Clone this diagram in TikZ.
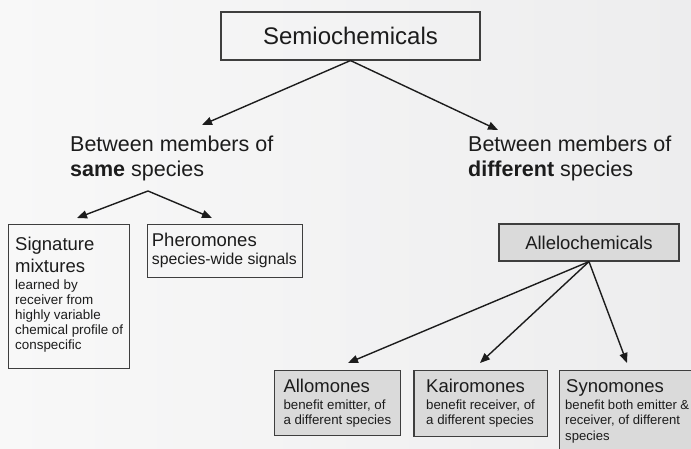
\documentclass[tikz,border=0pt]{standalone}
\usepackage{fontspec}
\setmainfont{Liberation Sans}
\usetikzlibrary{arrows.meta}
\definecolor{bgl}{RGB}{248,248,248}
\definecolor{bgr}{RGB}{237,237,238}
\definecolor{ink}{RGB}{28,28,28}
\definecolor{boxgray}{RGB}{218,218,218}
\newcommand{\tstack}[4]{\parbox[t]{#1}{\fontsize{#2}{#3}\selectfont\raggedright #4}}
\tikzset{
  plainbox/.style={draw=ink!85, line width=1.1pt, inner sep=0pt},
  graybox/.style={draw=ink!85, fill=boxgray, line width=1.2pt, inner sep=0pt},
  lbl/.style={anchor=base west, inner sep=0pt, text=ink},
  arr/.style={draw=ink, line width=1.4pt, -{Triangle[length=10pt,width=8pt]}}
}
\begin{document}
\begin{tikzpicture}[x=1pt,y=-1pt]
\useasboundingbox (0,0) rectangle (691,449);
\shade[left color=bgl, right color=bgr] (0,0) rectangle (691,449);
\clip (0,0) rectangle (691,449);

% top
\node[plainbox, minimum width=259pt, minimum height=48pt, text=ink] (semio) at (350.5,36) {\fontsize{24}{28}\selectfont Semiochemicals};

\node[lbl] (same) at (70,152) {\tstack{250pt}{21.5}{25}{Between members of\\\textbf{same} species}};
\node[lbl] (diff) at (468,152) {\tstack{220pt}{21.5}{25}{Between members of\\\textbf{different} species}};

\coordinate (sametip) at (202,125);
\coordinate (difftip) at (498,130);
\draw[arr] (semio.south) -- (sametip);
\draw[arr] (semio.south) -- (difftip);

% same species branch
\coordinate (samefork) at (148,191);
\coordinate (sigtip) at (77,218);
\coordinate (pheritip) at (212,218);
\draw[arr] (samefork) -- (sigtip);
\draw[arr] (samefork) -- (pheritip);

\node[plainbox, anchor=north west, minimum width=121pt, minimum height=144pt] (sig) at (8.3,224.3) {};
\node[lbl] (sigt) at (15,251) {\tstack{110pt}{18.5}{21.5}{Signature\\mixtures}};
\node[lbl] (sigs) at (15,289) {\tstack{110pt}{13.4}{15.1}{learned by\\receiver from\\highly variable\\chemical profile of\\conspecific}};

\node[plainbox, anchor=north west, minimum width=154.4pt, minimum height=52.4pt] (pher) at (147.3,224.3) {};
\node[lbl] (phert) at (151.7,246.7) {\fontsize{18.5}{21.5}\selectfont Pheromones};
\node[lbl] (phers) at (151.7,265) {\fontsize{15.8}{18}\selectfont species-wide signals};

% different species branch
\node[graybox, minimum width=180pt, minimum height=37pt, text=ink] (allelo) at (589,242.5) {\fontsize{18.5}{21.5}\selectfont Allelochemicals};

\coordinate (allotip) at (348,363);
\coordinate (kairotip) at (480,363);
\coordinate (synotip) at (627,363);
\draw[arr] (allelo.south) -- (allotip);
\draw[arr] (allelo.south) -- (kairotip);
\draw[arr] (allelo.south) -- (synotip);

\node[graybox, anchor=north west, minimum width=126pt, minimum height=65pt] (allo) at (274,370) {};
\node[lbl] (allot) at (283.3,392.7) {\fontsize{18.5}{21.5}\selectfont Allomones};
\node[lbl] (allos) at (283.3,409) {\tstack{110pt}{13.3}{15.5}{benefit emitter, of\\a different species}};

\node[graybox, anchor=north west, minimum width=133.4pt, minimum height=66pt] (kairo) at (413.3,370) {};
\node[lbl] (kairot) at (426,392.7) {\fontsize{18.5}{21.5}\selectfont Kairomones};
\node[lbl] (kairos) at (426,409.3) {\tstack{115pt}{13.3}{15.5}{benefit receiver, of\\a different species}};

\node[graybox, anchor=north west, minimum width=200pt, minimum height=120pt] (syno) at (559,370) {};
\node[lbl] (synot) at (566,392.7) {\fontsize{18.5}{21.5}\selectfont Synomones};
\node[lbl] (synos) at (565,409) {\tstack{124pt}{13.1}{15.5}{benefit both emitter \&\\receiver, of different\\species}};
\end{tikzpicture}
\end{document}
